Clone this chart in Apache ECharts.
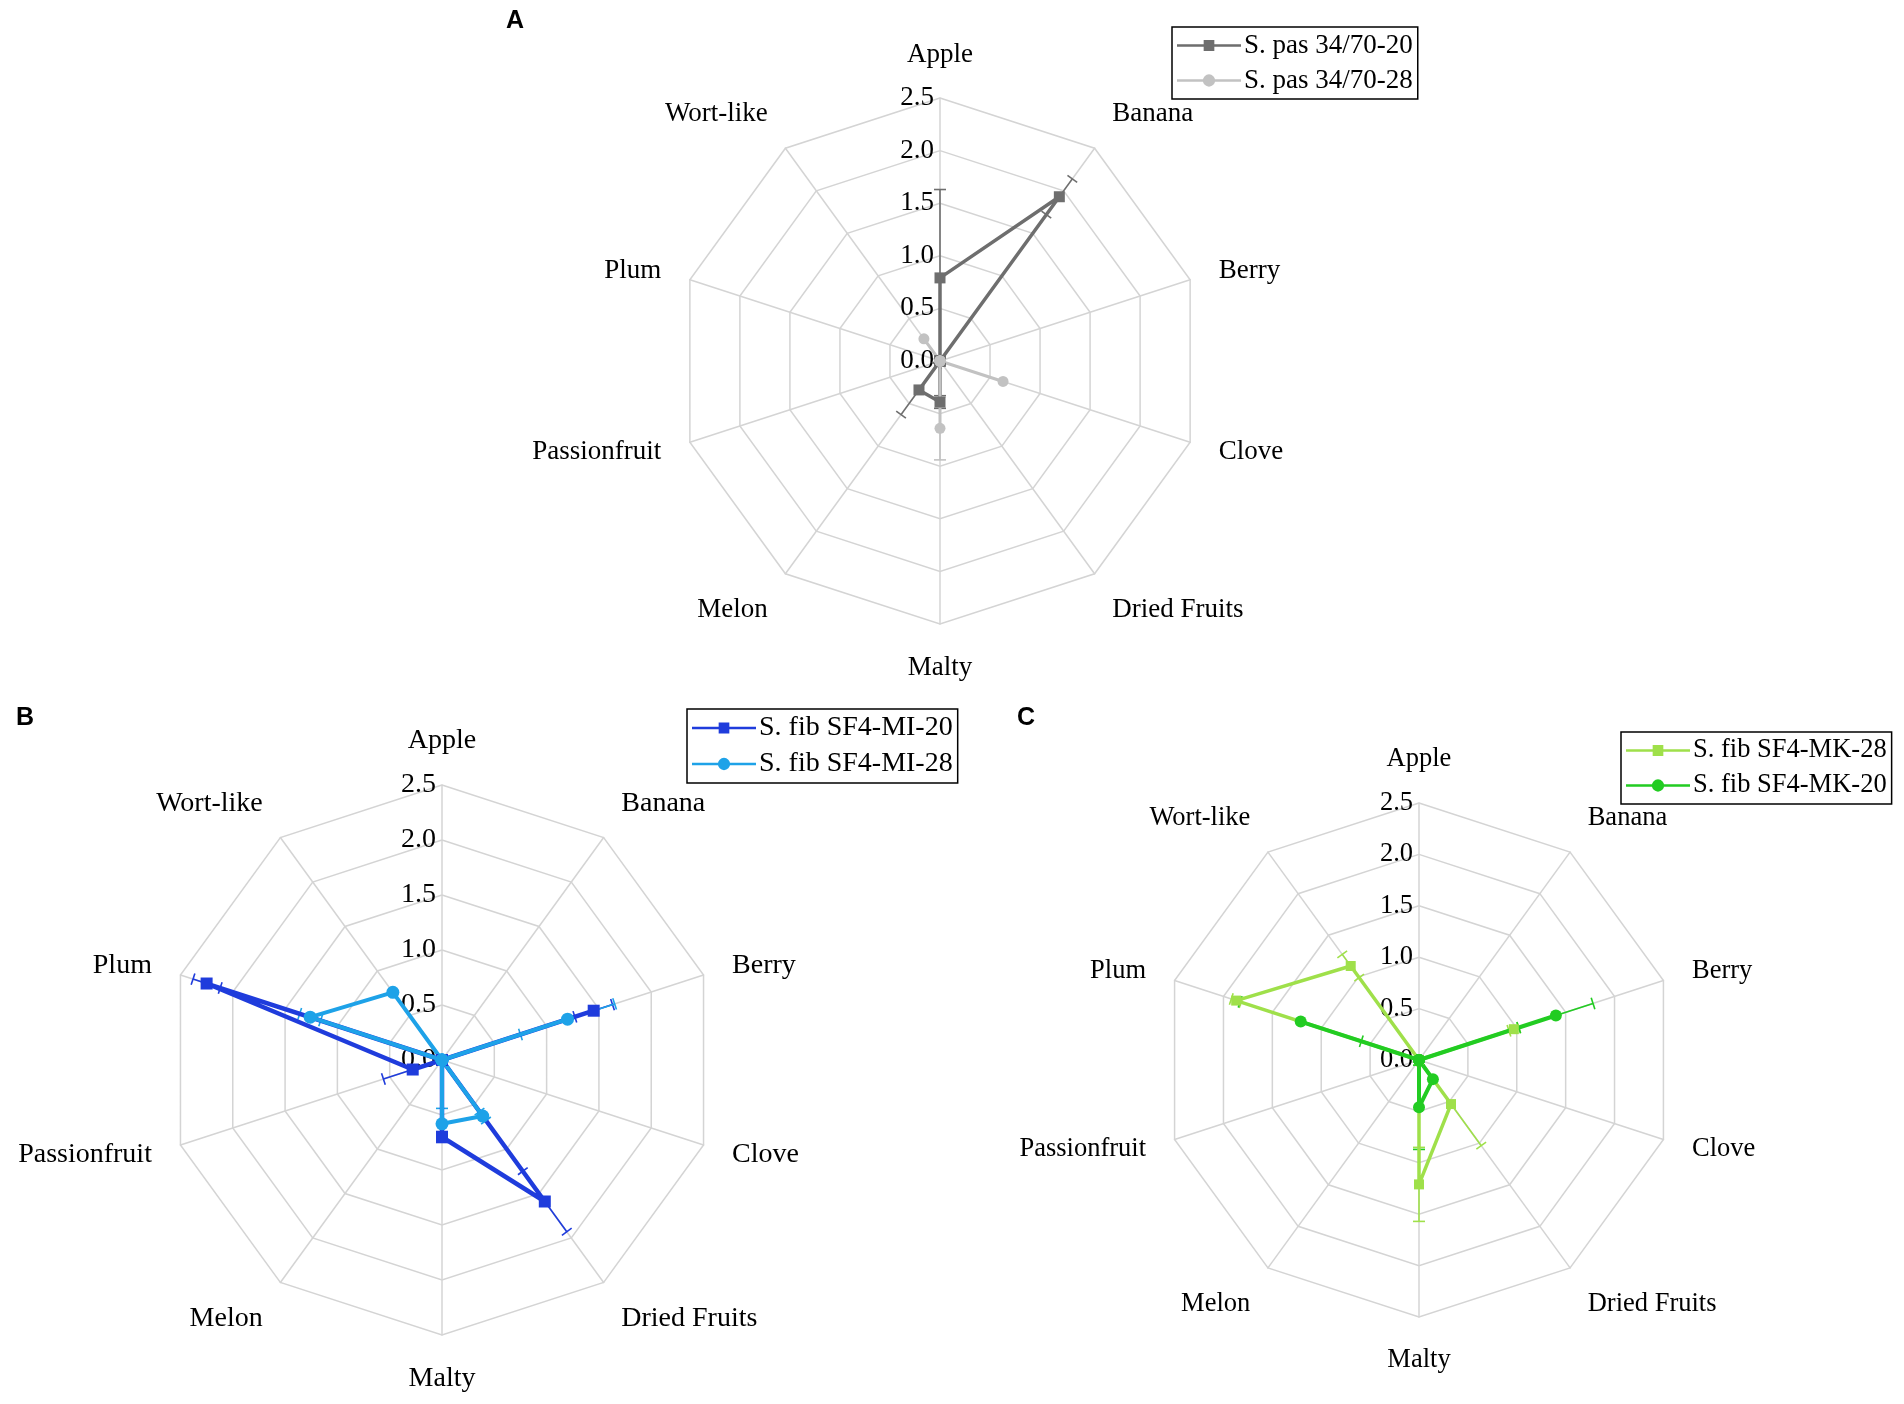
<!DOCTYPE html>
<html><head><meta charset="utf-8">
<script src="https://cdn.jsdelivr.net/npm/echarts@6/dist/echarts.min.js"></script>
<style>html,body{margin:0;padding:0;background:#fff}#c{width:1904px;height:1404px}</style>
</head><body><div id="c"></div>
<script>
// ---- data ----
const categories = ['Apple','Banana','Berry','Clove','Dried Fruits','Malty','Melon','Passionfruit','Plum','Wort-like'];
const tickMax = 2.5;
const tickStep = 0.5;

const pas20Name = 'S. pas 34/70-20';
const pas20 = [0.79, 1.93, 0, 0, 0, 0.39, 0.34, 0, 0, 0];
const pas20Err = [0.84, 0.21, 0, 0, 0, 0.06, 0.29, 0, 0, 0];
const pas28Name = 'S. pas 34/70-28';
const pas28 = [0, 0, 0, 0.63, 0, 0.64, 0, 0, 0, 0.26];
const pas28Err = [0, 0, 0, 0, 0, 0.30, 0, 0, 0, 0];

const mi20Name = 'S. fib SF4-MI-20';
const mi20 = [0, 0, 1.45, 0, 1.59, 0.70, 0, 0.28, 2.25, 0];
const mi20Err = [0, 0, 0.18, 0, 0.34, 0.05, 0, 0.28, 0.13, 0];
const mi28Name = 'S. fib SF4-MI-28';
const mi28 = [0, 0, 1.20, 0, 0.63, 0.58, 0, 0, 1.26, 0.76];
const mi28Err = [0, 0, 0.45, 0, 0.05, 0.14, 0, 0, 0.10, 0];

const mk28Name = 'S. fib SF4-MK-28';
const mk28 = [0, 0, 0.97, 0, 0.53, 1.21, 0, 0, 1.87, 1.13];
const mk28Err = [0, 0, 0.05, 0, 0.50, 0.36, 0, 0, 0.05, 0.14];
const mk20Name = 'S. fib SF4-MK-20';
const mk20 = [0, 0, 1.40, 0, 0.23, 0.46, 0, 0, 1.21, 0];
const mk20Err = [0, 0, 0.38, 0, 0, 0.41, 0, 0, 0.62, 0];

// ---- layout / style ----
const FONT = 'Liberation Serif';
const SQUARE_ICON = 'path://M0,6H60V8.5H0Z M25,2H35V12.5H25Z';
const CIRCLE_ICON = 'path://M0,6H60V8.5H0Z M30,1.5A5.75,5.75 0 1 1 30,13A5.75,5.75 0 1 1 30,1.5Z';
// extra spacing for diagonal axis names (Excel places them further out)
const namePad = { 'Banana':[0,0,20,0], 'Wort-like':[0,0,20,0], 'Dried Fruits':[24,0,0,0], 'Melon':[24,0,0,0] };

const panels = [
  { letter:'A', letterPos:[515,21], center:[940,361], radius:263, legendPos:[1172,27], font:27,
    series:[
      {name:pas20Name, values:pas20, err:pas20Err, color:'#6e6e6e', symbol:'rect', size:11, width:3.5},
      {name:pas28Name, values:pas28, err:pas28Err, color:'#c2c2c2', symbol:'circle', size:11, width:3}
    ]},
  { letter:'B', letterPos:[25,718], center:[442,1060], radius:275, legendPos:[687,709], font:28,
    series:[
      {name:mi20Name, values:mi20, err:mi20Err, color:'#1f3cdc', symbol:'rect', size:12, width:4.5},
      {name:mi28Name, values:mi28, err:mi28Err, color:'#1ea2e8', symbol:'circle', size:13, width:4}
    ]},
  { letter:'C', letterPos:[1026,718], center:[1419,1060], radius:257, legendPos:[1621,732], font:26.5,
    series:[
      {name:mk28Name, values:mk28, err:mk28Err, color:'#9fe04a', symbol:'rect', size:10, width:3.5},
      {name:mk20Name, values:mk20, err:mk20Err, color:'#22cc22', symbol:'circle', size:12, width:4}
    ]}
];

// ECharts radar lays indicators out counter-clockwise; the reference runs clockwise.
const nCat = categories.length;
const radarOrder = [0].concat(categories.map((_, i) => i).slice(1).reverse());

const radar = [], polar = [], angleAxis = [], radiusAxis = [], series = [], legend = [], graphic = [];

function errRender(params, api) {
  const idx = api.value(0), v = api.value(1), e = api.value(2);
  if (!e) return null;
  const ang = idx * 360 / nCat;
  const lo = api.coord([Math.max(0, v - e), ang]);
  const hi = api.coord([v + e, ang]);
  let dx = hi[0] - lo[0], dy = hi[1] - lo[1];
  const len = Math.sqrt(dx*dx + dy*dy) || 1;
  const nx = -dy / len * 6, ny = dx / len * 6;
  const style = { stroke: api.visual('color'), lineWidth: 1.6 };
  return { type:'group', children:[
    {type:'line', shape:{x1:lo[0], y1:lo[1], x2:hi[0], y2:hi[1]}, style},
    {type:'line', shape:{x1:hi[0]-nx, y1:hi[1]-ny, x2:hi[0]+nx, y2:hi[1]+ny}, style},
    {type:'line', shape:{x1:lo[0]-nx, y1:lo[1]-ny, x2:lo[0]+nx, y2:lo[1]+ny}, style}
  ]};
}

panels.forEach((p, pi) => {
  const rich = {};
  categories.forEach((c, i) => {
    rich['n' + i] = { fontFamily: FONT, fontSize: p.font, color: '#000', padding: namePad[c] || [0,0,0,0] };
  });
  radar.push({
    center: p.center, radius: p.radius, startAngle: 90,
    shape: 'polygon', splitNumber: Math.round(tickMax / tickStep),
    indicator: radarOrder.map(i => ({ name: categories[i], min: 0, max: tickMax })),
    axisName: { color: '#000', fontFamily: FONT, fontSize: p.font,
      formatter: name => '{n' + categories.indexOf(name) + '|' + name + '}', rich },
    nameGap: 30,
    axisLine: { lineStyle: { color: '#d4d4d4', width: 1.5 } },
    splitLine: { lineStyle: { color: '#d4d4d4', width: 1.5 } },
    splitArea: { show: false },
    axisTick: { show: false },
    axisLabel: { show: false }
  });
  polar.push({ center: p.center, radius: p.radius });
  angleAxis.push({ polarIndex: pi, type: 'value', min: 0, max: 360, startAngle: 90, clockwise: true, show: false });
  radiusAxis.push({ polarIndex: pi, type: 'value', min: 0, max: tickMax, interval: tickStep,
    axisLine: { show: false }, axisTick: { show: false }, splitLine: { show: false },
    axisLabel: { formatter: v => v.toFixed(1), fontFamily: FONT, fontSize: p.font, color: '#000', margin: 6 } });

  p.series.forEach(s => {
    series.push({
      type: 'custom', coordinateSystem: 'polar', polarIndex: pi, z: 2,
      itemStyle: { color: s.color }, silent: true,
      encode: { radius: 1, angle: 0 },
      data: s.values.map((v, i) => [i, v, s.err[i]]),
      renderItem: errRender
    });
  });
  series.push({
    type: 'radar', radarIndex: pi, z: 3,
    data: p.series.map(s => ({
      name: s.name, value: radarOrder.map(i => s.values[i]), symbol: s.symbol, symbolSize: s.size,
      itemStyle: { color: s.color }, lineStyle: { color: s.color, width: s.width }
    }))
  });

  legend.push({
    left: p.legendPos[0], top: p.legendPos[1], orient: 'vertical',
    selectedMode: false, itemWidth: 64, itemHeight: 14, itemGap: 8,
    borderColor: '#000', borderWidth: 1.5, padding: [5, 5, 5, 5], backgroundColor: '#fff',
    textStyle: { fontFamily: FONT, fontSize: p.font, color: '#000', padding: [0,0,0,-2] },
    data: p.series.map(s => ({ name: s.name, icon: s.symbol === 'rect' ? SQUARE_ICON : CIRCLE_ICON,
      itemStyle: { color: s.color } }))
  });

  graphic.push({ type: 'text', x: p.letterPos[0], y: p.letterPos[1],
    style: { text: p.letter, font: 'bold 25px "Liberation Sans"', fill: '#000', align: 'center', verticalAlign: 'middle' } });
});

const chart = echarts.init(document.getElementById('c'), null, { renderer: 'canvas' });
chart.setOption({
  animation: false, backgroundColor: '#fff',
  radar, polar, angleAxis, radiusAxis, series, legend, graphic
});
</script></body></html>
